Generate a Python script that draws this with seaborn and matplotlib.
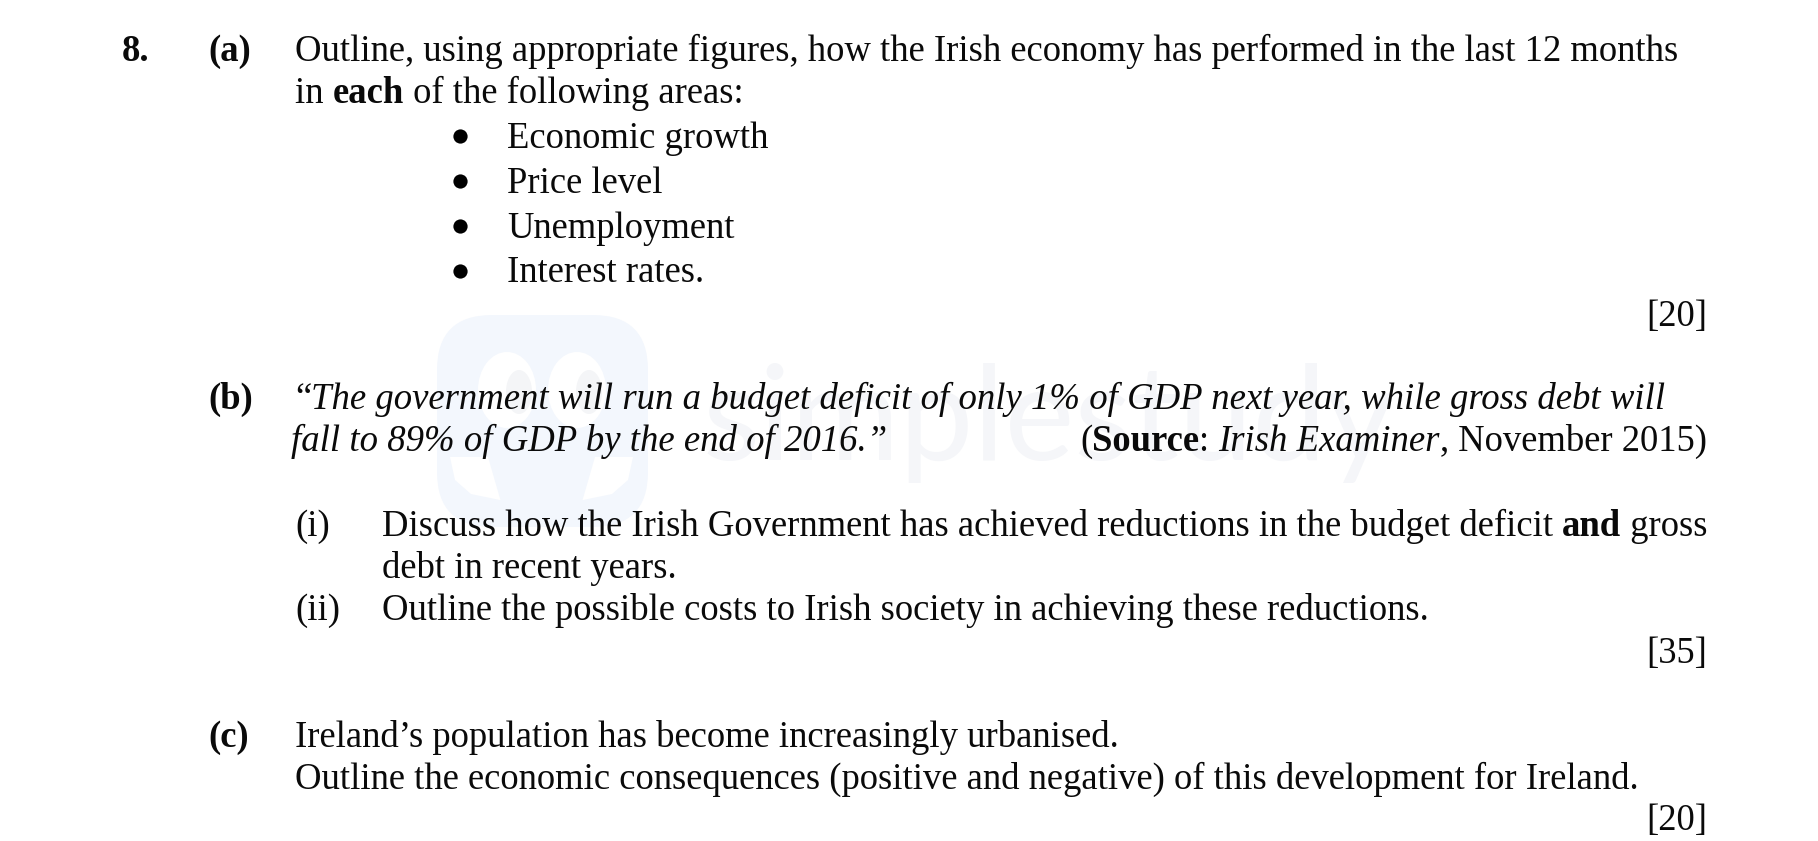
import matplotlib
matplotlib.use('Agg')
import matplotlib.pyplot as plt
import seaborn as sns
import pandas as pd
from matplotlib.patches import FancyBboxPatch, Ellipse, Polygon

W, H = 1818, 841

sns.set_theme(style='white')
plt.rcParams['font.family'] = ['Liberation Serif']

TEXT_COLOR = '#0a0a0a'
FONT_PX = 36.65

# each line: x, baseline y, list of (text, style)
LINES = [
    (122, 61, [('8.', 'b')]),
    (208, 61, [('(a)', 'b')]),
    (295, 61, [('Outline, using appropriate figures, how the Irish economy has performed in the last 12 months', 'r')]),
    (295, 103, [('in ', 'r'), ('each', 'b'), (' of the following areas:', 'r')]),
    (507, 148, [('Economic growth', 'r')]),
    (507, 193, [('Price level', 'r')]),
    (507, 238, [('Unemployment', 'r')]),
    (507, 282, [('Interest rates.', 'r')]),
    (208, 409, [('(b)', 'b')]),
    (295, 409, [('“', 'r'), ('The government will run a budget deficit of only 1% of GDP next year, while gross debt will', 'i')]),
    (291, 451, [('fall to 89% of GDP by the end of 2016.”', 'i')]),
    (295, 536, [('(i)', 'r')]),
    (382, 536, [('Discuss how the Irish Government has achieved reductions in the budget deficit ', 'r'), ('and', 'b'), (' gross', 'r')]),
    (382, 578, [('debt in recent years.', 'r')]),
    (295, 620, [('(ii)', 'r')]),
    (382, 620, [('Outline the possible costs to Irish society in achieving these reductions.', 'r')]),
    (208, 747, [('(c)', 'b')]),
    (295, 747, [('Ireland’s population has become increasingly urbanised.', 'r')]),
    (295, 789, [('Outline the economic consequences (positive and negative) of this development for Ireland.', 'r')]),
]
RIGHT_LINES = [
    (326, [('[20]', 'r')]),
    (451, [('(', 'r'), ('Source', 'b'), (': ', 'r'), ('Irish Examiner', 'i'), (', November 2015)', 'r')]),
    (663, [('[35]', 'r')]),
    (830, [('[20]', 'r')]),
]
RIGHT_EDGE = 1707

BULLET_X = [460, 460, 460, 460]
BULLET_Y = [136, 181, 226, 271]

STYLES = {
    'r': dict(fontweight='normal', fontstyle='normal'),
    'b': dict(fontweight='bold', fontstyle='normal'),
    'i': dict(fontweight='normal', fontstyle='italic'),
}


def draw_runs(ax, x, y, runs, fontsize, measure_only=False):
    """Write the runs one after the other and return the end x position."""
    renderer = ax.figure.canvas.get_renderer()
    for text, style in runs:
        # spaces at the ends are not measured, so measure with a guard char
        size = fontsize * 1.002 if style == 'i' else fontsize
        t = ax.text(x, y, text + '|', fontsize=size, color=TEXT_COLOR, va='baseline', ha='left', **STYLES[style])
        w_all = t.get_window_extent(renderer).width
        t.set_text('|')
        w_bar = t.get_window_extent(renderer).width
        if measure_only:
            t.remove()
        else:
            t.set_text(text)
        x += w_all - w_bar
    return x


def draw_watermark(ax):
    logo = '#f3f7fd'
    ax.add_patch(FancyBboxPatch((437, 315), 211, 212, boxstyle='round,pad=0,rounding_size=55',
                                fc=logo, ec='none', zorder=0))
    # eyes
    for cx in (507, 577):
        ax.add_patch(Ellipse((cx, 390), 58, 76, fc='white', ec='none', zorder=0))
    for cx in (519, 589):
        ax.add_patch(Ellipse((cx, 392), 26, 44, fc='#f4f5f7', ec='none', zorder=0))
    # mouth
    ax.add_patch(Polygon([(450, 457), (633, 457), (628, 480), (612, 494), (583, 500),
                          (500, 500), (471, 494), (455, 480)], fc='white', ec='none', zorder=0))
    ax.add_patch(Polygon([(488, 457), (595, 457), (582, 502), (501, 502)], fc=logo, ec='none', zorder=0))
    ax.text(703, 460, 'simplestudy', fontsize=95, family='Lato', fontweight='normal',
            color='#f5f6f9', va='baseline', ha='left', zorder=0)


def main():
    fig, ax = plt.subplots(figsize=(W / 100, H / 100), dpi=100)
    fig.subplots_adjust(0, 0, 1, 1)
    ax.set_xlim(0, W)
    ax.set_ylim(H, 0)
    ax.axis('off')

    draw_watermark(ax)

    fontsize = FONT_PX * 72 / 100
    for x, y, runs in LINES:
        draw_runs(ax, x, y, runs, fontsize)
    for y, runs in RIGHT_LINES:
        end = draw_runs(ax, 0, y, runs, fontsize, measure_only=True)
        draw_runs(ax, RIGHT_EDGE - end, y, runs, fontsize)

    bullets = pd.DataFrame({'x': BULLET_X, 'y': BULLET_Y})
    sns.scatterplot(data=bullets, x='x', y='y', ax=ax, color='black', s=105, linewidth=0, legend=False)
    ax.set_xlim(0, W)
    ax.set_ylim(H, 0)
    ax.axis('off')

    fig.savefig('out.png', dpi=100)
    plt.close(fig)


if __name__ == '__main__':
    main()
